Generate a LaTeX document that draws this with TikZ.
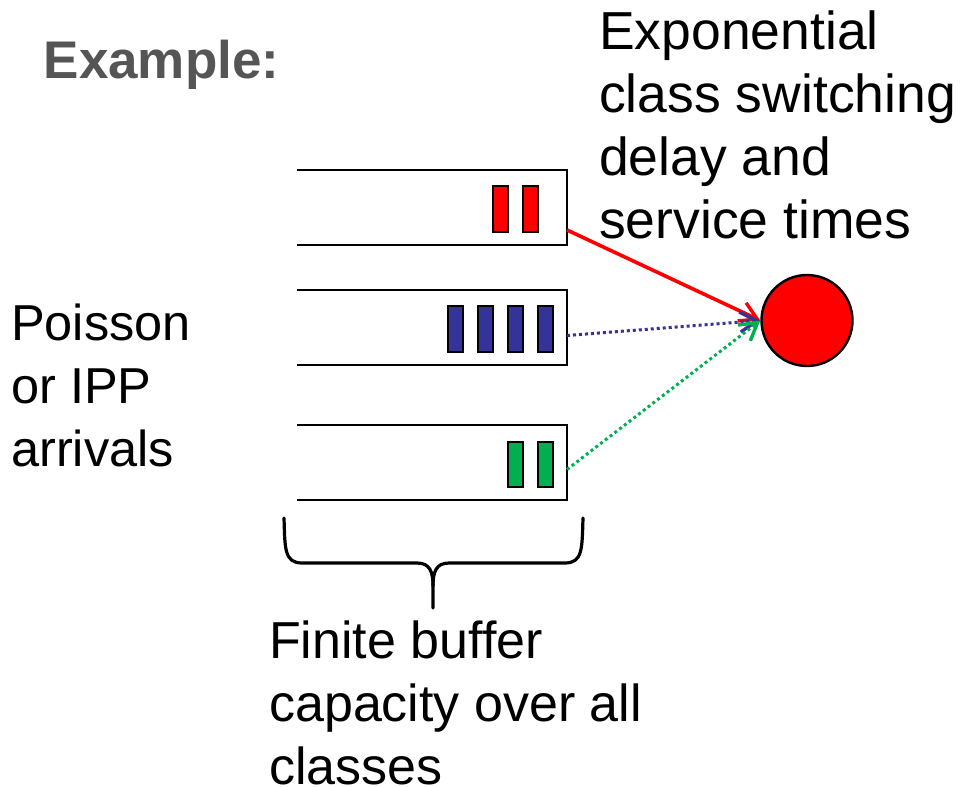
\documentclass[tikz,border=0pt]{standalone}
\usepackage{fontspec}
\setmainfont{Liberation Sans}
\usetikzlibrary{arrows.meta}
\definecolor{qred}{HTML}{FF0000}
\definecolor{qblue}{HTML}{333399}
\definecolor{qgreen}{HTML}{00B050}
\definecolor{titlegray}{HTML}{555555}
\tikzset{
  queuebox/.style={draw=black, line width=2.6pt, line join=miter},
  job/.style={draw=black, line width=2pt, minimum width=15.5pt, minimum height=45.5pt, inner sep=0pt, anchor=north west},
  server/.style={circle, draw=black, line width=2.4pt, fill=qred, minimum size=91pt, inner sep=0pt},
  flow/.style={line width=3.6pt, -{Straight Barb[length=17pt, width=20pt, line width=3.4pt]}},
  dotflow/.style={flow, line width=3pt, dash pattern=on 3pt off 3pt},
  label/.style={inner sep=0pt, anchor=base west},
  bracestyle/.style={line width=3.2pt, line cap=round, line join=round}
}
\begin{document}
\begin{tikzpicture}[x=1pt, y=-1pt]
  \useasboundingbox (0,0) rectangle (962,787);

  % title
  \node[label, text=titlegray, font=\fontsize{53}{60}\selectfont\bfseries]
    (title) at (43.5,78) {Example:};

  % three queues, open on the arrival side
  \draw[queuebox] (297,170) -- (567,170) -- (567,245) -- (297,245);
  \draw[queuebox] (297,290) -- (567,290) -- (567,365) -- (297,365);
  \draw[queuebox] (297,425) -- (567,425) -- (567,500) -- (297,500);

  % waiting jobs
  \node[job, fill=qred] (r1) at (491.7,185) {};
  \node[job, fill=qred] (r2) at (521.7,185) {};
  \node[job, fill=qblue] (b1) at (446.7,305) {};
  \node[job, fill=qblue] (b2) at (476.7,305) {};
  \node[job, fill=qblue] (b3) at (506.7,305) {};
  \node[job, fill=qblue] (b4) at (536.7,305) {};
  \node[job, fill=qgreen] (g1) at (506.7,440.5) {};
  \node[job, fill=qgreen] (g2) at (536.7,440.5) {};

  % queue exits and server
  \coordinate (outred) at (567,230);
  \coordinate (outblue) at (567,335.5);
  \coordinate (outgreen) at (567,469.5);
  \node[server] (srv) at (807,320.5) {};

  \draw[flow, qred] (outred) -- (srv.west);
  \draw[dotflow, qblue] (outblue) -- (srv.west);
  \draw[dotflow, qgreen] (outgreen) -- (srv.west);

  % brace under the queues
  \draw[bracestyle]
    (284,518) .. controls (285,548) and (284,563) .. (302,563)
    -- (417,563) .. controls (430,563) and (433,572) .. (433,586)
    -- (433,608);
  \draw[bracestyle]
    (583,518) .. controls (582,548) and (583,563) .. (565,563)
    -- (449,563) .. controls (436,563) and (433,572) .. (433,586);

  % labels
  \node[label, font=\fontsize{50.5}{63.3}\selectfont] (arrivals) at (11,340)
    {\vtop{\hbox{Poisson}\hbox{or IPP}\hbox{arrivals}}};
  \node[label, font=\fontsize{53.5}{63}\selectfont] (service) at (599,49.5)
    {\vtop{\hbox{Exponential}\hbox{class switching}\hbox{delay and}\hbox{service times}}};
  \node[label, font=\fontsize{52}{63}\selectfont] (buffer) at (269,658.3)
    {\vtop{\hbox{Finite buffer}\hbox{capacity over all}\hbox{classes}}};
\end{tikzpicture}
\end{document}
